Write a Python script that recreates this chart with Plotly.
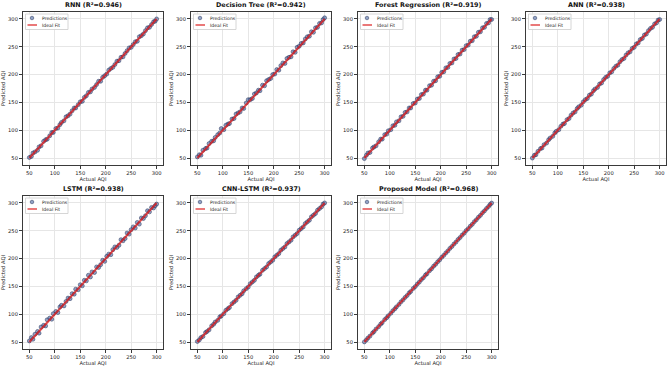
import plotly.graph_objects as go
from plotly.subplots import make_subplots

W, H = 669, 368

model_names = ["RNN", "Decision Tree", "Forest Regression", "ANN", "LSTM", "CNN-LSTM", "Proposed Model"]
r2_scores = [0.946, 0.942, 0.919, 0.938, 0.938, 0.937, 0.968]

actual_aqi = [50, 54, 57, 61, 66, 69, 73, 78, 82, 85, 90, 94, 97, 102, 106, 110, 113, 118, 122, 126,
              130, 134, 138, 141, 146, 150, 154, 158, 162, 166, 170, 173, 178, 182, 186, 190, 194, 198, 202, 206,
              210, 214, 218, 222, 226, 230, 234, 238, 242, 246, 250, 254, 258, 262, 266, 270, 274, 278, 282, 286,
              290, 294, 297, 300]

pred_rnn = [51, 53, 59, 61, 64, 70, 72, 80, 83, 84, 90, 96, 96, 103, 104, 110, 114, 117, 124, 126,
            129, 135, 140, 140, 146, 151, 152, 159, 162, 168, 169, 174, 177, 182, 188, 188, 195, 198, 201, 208,
            211, 213, 218, 224, 225, 231, 232, 238, 243, 248, 249, 254, 259, 260, 268, 270, 273, 279, 284, 285,
            290, 295, 296, 300]
pred_dt = [52, 56, 55, 64, 67, 68, 76, 80, 81, 87, 92, 95, 103, 101, 109, 111, 112, 120, 121, 129,
           131, 133, 140, 139, 149, 155, 155, 157, 165, 167, 172, 171, 181, 180, 189, 191, 193, 200, 201, 209,
           208, 216, 221, 220, 229, 231, 232, 241, 240, 249, 251, 256, 257, 264, 268, 269, 277, 276, 284, 285,
           292, 293, 299, 302]
pred_rf = [49, 55, 59, 60, 68, 70, 72, 79, 84, 84, 92, 93, 99, 101, 108, 109, 115, 117, 124, 125,
           132, 133, 140, 140, 148, 149, 156, 157, 164, 165, 172, 172, 180, 181, 188, 189, 196, 197, 204, 205,
           212, 213, 220, 221, 228, 229, 236, 237, 244, 245, 252, 253, 260, 261, 268, 269, 276, 277, 284, 285,
           292, 293, 299, 299]
pred_ann = [50, 55, 56, 62, 67, 68, 74, 77, 83, 86, 89, 95, 98, 101, 107, 111, 112, 119, 121, 127,
            131, 133, 139, 142, 145, 151, 155, 157, 163, 165, 171, 174, 177, 183, 185, 191, 195, 197, 203, 205,
            211, 215, 217, 223, 227, 229, 235, 239, 241, 247, 249, 255, 257, 263, 265, 271, 273, 279, 283, 285,
            291, 293, 298, 299]
pred_lstm = [52, 58, 55, 64, 69, 66, 77, 80, 79, 90, 93, 91, 101, 105, 103, 113, 116, 115, 123, 129,
             128, 137, 136, 145, 144, 153, 151, 161, 160, 170, 167, 176, 175, 185, 184, 189, 197, 195, 204, 208,
             207, 216, 221, 220, 224, 234, 232, 236, 246, 244, 252, 257, 255, 265, 262, 273, 272, 277, 286, 284,
             292, 291, 295, 298]
pred_cnn_lstm = [51, 54, 58, 60, 67, 69, 72, 79, 82, 86, 89, 95, 97, 101, 107, 110, 112, 119, 122, 125,
                 131, 134, 137, 142, 146, 149, 155, 158, 161, 167, 170, 172, 179, 182, 185, 191, 194, 197, 203, 206,
                 209, 215, 218, 221, 227, 230, 233, 239, 242, 245, 251, 254, 257, 263, 266, 269, 275, 278, 281, 287,
                 290, 293, 298, 300]
pred_proposed = [50.3, 53.8, 57.2, 60.7, 66.1, 68.8, 73.4, 77.7, 82.2, 84.9, 90.3, 93.8, 97.2, 101.7, 106.3, 109.8,
                 113.2, 117.7, 122.3, 125.8, 130.2, 133.7, 138.3, 140.8, 146.2, 149.7, 154.3, 157.8, 162.2, 165.7,
                 170.3, 172.8, 178.2, 181.7, 186.3, 189.8, 194.2, 197.7, 202.3, 205.8, 210.2, 213.7, 218.3, 221.8,
                 226.2, 229.7, 234.3, 237.8, 242.2, 245.7, 250.3, 253.8, 258.2, 261.7, 266.3, 269.8, 274.2, 277.7,
                 282.3, 285.8, 290.2, 293.7, 297.3, 299.8]

predictions = [pred_rnn, pred_dt, pred_rf, pred_ann, pred_lstm, pred_cnn_lstm, pred_proposed]
ideal_line = [50, 300]
tick_vals = [50, 100, 150, 200, 250, 300]
tick_text = ["50", "100", "150", "200", "250", "300"]

FONT = "DejaVu Sans"
MARKER_FILL = "rgba(70,100,160,0.6)"
MARKER_EDGE = "rgba(25,35,75,0.9)"
LINE_RED = "rgba(220,30,30,0.8)"

col_left = [23, 191, 358, 526]
row_top = [12, 196]
pw, ph = 140, 153

fig = make_subplots(rows=2, cols=4, specs=[[{}, {}, {}, {}], [{}, {}, {}, None]])

positions = [(0, 0), (0, 1), (0, 2), (0, 3), (1, 0), (1, 1), (1, 2)]
layout_upd = {}
annotations = []
shapes = []


def px(xp):
    return xp / W


def py(yp):
    return 1 - yp / H


for i, (name, r2, pred) in enumerate(zip(model_names, r2_scores, predictions)):
    r, c = positions[i]
    fig.add_trace(go.Scatter(
        x=actual_aqi, y=pred, mode="markers", name="Predictions",
        marker=dict(size=4, color=MARKER_FILL, line=dict(color=MARKER_EDGE, width=0.5)),
        showlegend=False), row=r + 1, col=c + 1)
    fig.add_trace(go.Scatter(
        x=ideal_line, y=ideal_line, mode="lines", name="Ideal Fit",
        line=dict(color=LINE_RED, width=2), showlegend=False), row=r + 1, col=c + 1)

    L, T = col_left[c], row_top[r]
    x0, x1 = px(L), px(L + pw)
    y1, y0 = py(T), py(T + ph)
    ax = "" if i == 0 else str(i + 1)
    common = dict(range=[37.5, 312.5], tickvals=tick_vals, ticktext=tick_text,
                  showgrid=True, gridcolor="#e6e6e6", gridwidth=0.8,
                  showline=True, linecolor="#3a3a3a", linewidth=1, mirror=True,
                  ticks="outside", ticklen=3, tickwidth=0.8, tickcolor="#3a3a3a",
                  tickfont=dict(size=5.2, color="#222", family=FONT),
                  zeroline=False, automargin=False)
    layout_upd[f"xaxis{ax}"] = dict(common, domain=[x0, x1],
                                    title=dict(text="Actual AQI", font=dict(size=5.2, family=FONT, color="#222"), standoff=2))
    layout_upd[f"yaxis{ax}"] = dict(common, domain=[y0, y1],
                                    title=dict(text="Predicted AQI", font=dict(size=5.2, family=FONT, color="#222"), standoff=2))

    # legend box (per panel, like matplotlib)
    shapes.append(dict(type="rect", xref="paper", yref="paper",
                       x0=px(L + 2.5), x1=px(L + 45), y0=py(T + 17.5), y1=py(T + 2),
                       fillcolor="rgba(255,255,255,0.85)", line=dict(color="#cccccc", width=0.8)))
    shapes.append(dict(type="circle", xref="paper", yref="paper",
                       xsizemode="pixel", ysizemode="pixel",
                       xanchor=px(L + 9), yanchor=py(T + 6), x0=-1.8, x1=1.8, y0=-1.8, y1=1.8,
                       fillcolor=MARKER_FILL, line=dict(color=MARKER_EDGE, width=0.5)))
    shapes.append(dict(type="line", xref="paper", yref="paper",
                       x0=px(L + 4.5), x1=px(L + 14), y0=py(T + 13), y1=py(T + 13),
                       line=dict(color=LINE_RED, width=1.5)))
    annotations.append(dict(text="Predictions", x=px(L + 17), y=py(T + 6), xref="paper", yref="paper",
                            xanchor="left", yanchor="middle", showarrow=False,
                            font=dict(size=4.6, family=FONT, color="#222")))
    annotations.append(dict(text="Ideal Fit", x=px(L + 17), y=py(T + 13), xref="paper", yref="paper",
                            xanchor="left", yanchor="middle", showarrow=False,
                            font=dict(size=4.6, family=FONT, color="#222")))
    annotations.append(dict(text=f"<b>{name} (R²={r2:.3f})</b>", x=(x0 + x1) / 2, y=py(T - 7),
                            xref="paper", yref="paper", xanchor="center", yanchor="middle",
                            showarrow=False, font=dict(size=6.4, family=FONT, color="#111")))

fig.update_layout(**layout_upd)
fig.update_layout(width=W, height=H, margin=dict(l=0, r=0, t=0, b=0),
                  paper_bgcolor="white", plot_bgcolor="white",
                  annotations=annotations, shapes=shapes, font=dict(family=FONT))
fig.write_html("out.html", config={"displayModeBar": False},
               post_script="document.body.style.margin='0';document.body.style.padding='0';")
